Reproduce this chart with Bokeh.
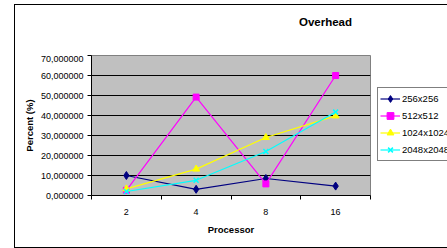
from bokeh.plotting import figure
from bokeh.models import Legend, LegendItem, FixedTicker, Range1d, Label
from bokeh.layouts import column
from bokeh.embed import file_html
from bokeh.resources import INLINE

# ---- data ----
processors = ["2", "4", "8", "16"]
s256 = [10.0, 3.1, 8.5, 4.7]
s512 = [2.6, 49.2, 5.8, 60.0]
s1024 = [3.3, 13.2, 29.0, 39.8]
s2048 = [2.0, 7.6, 22.0, 41.7]
series_names = ["256x256", "512x512", "1024x1024", "2048x2048"]
y_ticks = [0, 10, 20, 30, 40, 50, 60, 70]
title_text = "Overhead"

FONT = "Liberation Sans"
W, TOP_H = 447, 55

n = len(processors)
xs = [i + 0.5 for i in range(n)]

# ---- title strip (a figure of its own, pixel ranges) ----
t = figure(frame_width=W, frame_height=TOP_H, output_backend="svg", toolbar_location=None,
           x_range=Range1d(0, W), y_range=Range1d(0, TOP_H),
           x_axis_location=None, y_axis_location=None,
           min_border_left=0, min_border_right=0, min_border_top=0, min_border_bottom=0)
t.grid.visible = False
t.outline_line_color = None
t.background_fill_alpha = 0
t.border_fill_alpha = 0
t.add_layout(Label(x=234, y=TOP_H - 21, text=title_text, text_font=FONT,
                   text_font_size="11.5px", text_font_style="bold", text_color="black",
                   text_align="center", text_baseline="middle"))

# ---- main chart ----
p = figure(frame_width=279, frame_height=140, output_backend="svg", toolbar_location=None,
           x_range=Range1d(0, n), y_range=Range1d(0, 70),
           min_border_left=91, min_border_right=77, min_border_top=0,
           min_border_bottom=53)
p.title.visible = False

p.background_fill_color = "#C0C0C0"
p.border_fill_alpha = 0
p.outline_line_color = "#808080"
p.outline_line_width = 1

# grid
p.xgrid.visible = False
p.ygrid.ticker = FixedTicker(ticks=y_ticks[1:-1])
p.ygrid.grid_line_color = "black"
p.ygrid.grid_line_width = 1

# x axis
p.xaxis.ticker = FixedTicker(ticks=xs, minor_ticks=list(range(n + 1)))
p.xaxis.major_label_overrides = {x: lab for x, lab in zip(xs, processors)}
p.xaxis.major_tick_out = 0
p.xaxis.major_tick_in = 0
p.xaxis.minor_tick_out = 4
p.xaxis.minor_tick_in = 0
p.xaxis.minor_tick_line_color = "black"
p.xaxis.major_label_standoff = 9
p.xaxis.axis_label = "Processor"
p.xaxis.axis_label_standoff = 6

# y axis
p.yaxis.ticker = FixedTicker(ticks=y_ticks, minor_ticks=[])
p.yaxis.major_label_overrides = {v: f"{v:.6f}".replace(".", ",") for v in y_ticks}
p.yaxis.major_tick_out = 4
p.yaxis.major_tick_in = 0
p.yaxis.major_label_standoff = 4
p.yaxis.axis_label = "Percent (%)"
p.yaxis.axis_label_standoff = 3

for ax in (p.xaxis, p.yaxis):
    ax.axis_line_color = "black"
    ax.major_tick_line_color = "black"
    ax.major_label_text_font = FONT
    ax.major_label_text_font_size = "9px"
    ax.major_label_text_color = "black"
    ax.axis_label_text_font = FONT
    ax.axis_label_text_font_size = "9.5px"
    ax.axis_label_text_font_style = "bold"
    ax.axis_label_text_color = "black"

# series
colors = ["#000080", "#FF00FF", "#FFFF00", "#00FFFF"]
markers = ["diamond", "square", "triangle", "x"]
sizes = [8, 6, 7, 7]
data = [s256, s512, s1024, s2048]
items = []
for name, vals, c, m, s in zip(series_names, data, colors, markers, sizes):
    ln = p.line(xs, vals, line_color=c, line_width=1.2)
    if m == "x":
        mk = p.scatter(xs, vals, marker=m, size=s, line_color=c, line_width=1.5)
    else:
        mk = p.scatter(xs, vals, marker=m, size=s, fill_color=c, line_color=c)
    items.append(LegendItem(label=name, renderers=[ln, mk]))

legend = Legend(items=items, location=(7, 34))
legend.label_text_font = FONT
legend.label_text_font_size = "9.5px"
legend.label_text_color = "black"
legend.glyph_width = 20
legend.glyph_height = 17
legend.label_height = 17
legend.label_standoff = 2
legend.spacing = 0
legend.padding = 2
legend.margin = 0
legend.border_line_color = "black"
legend.border_line_width = 1
legend.background_fill_color = "white"
legend.background_fill_alpha = 1
p.add_layout(legend, "right")

layout = column(t, p, spacing=0)
# outer chart border (left, top, bottom lines; right edge is off-page in the reference)
layout.styles = {
    "background": ("linear-gradient(#000,#000) 14px 4px / 1px 244px no-repeat, "
                   "linear-gradient(#000,#000) 14px 4px / 100% 1px no-repeat, "
                   "linear-gradient(#000,#000) 14px 247px / 100% 1px no-repeat, white"),
}

open("out.html", "w").write(file_html(layout, INLINE))
